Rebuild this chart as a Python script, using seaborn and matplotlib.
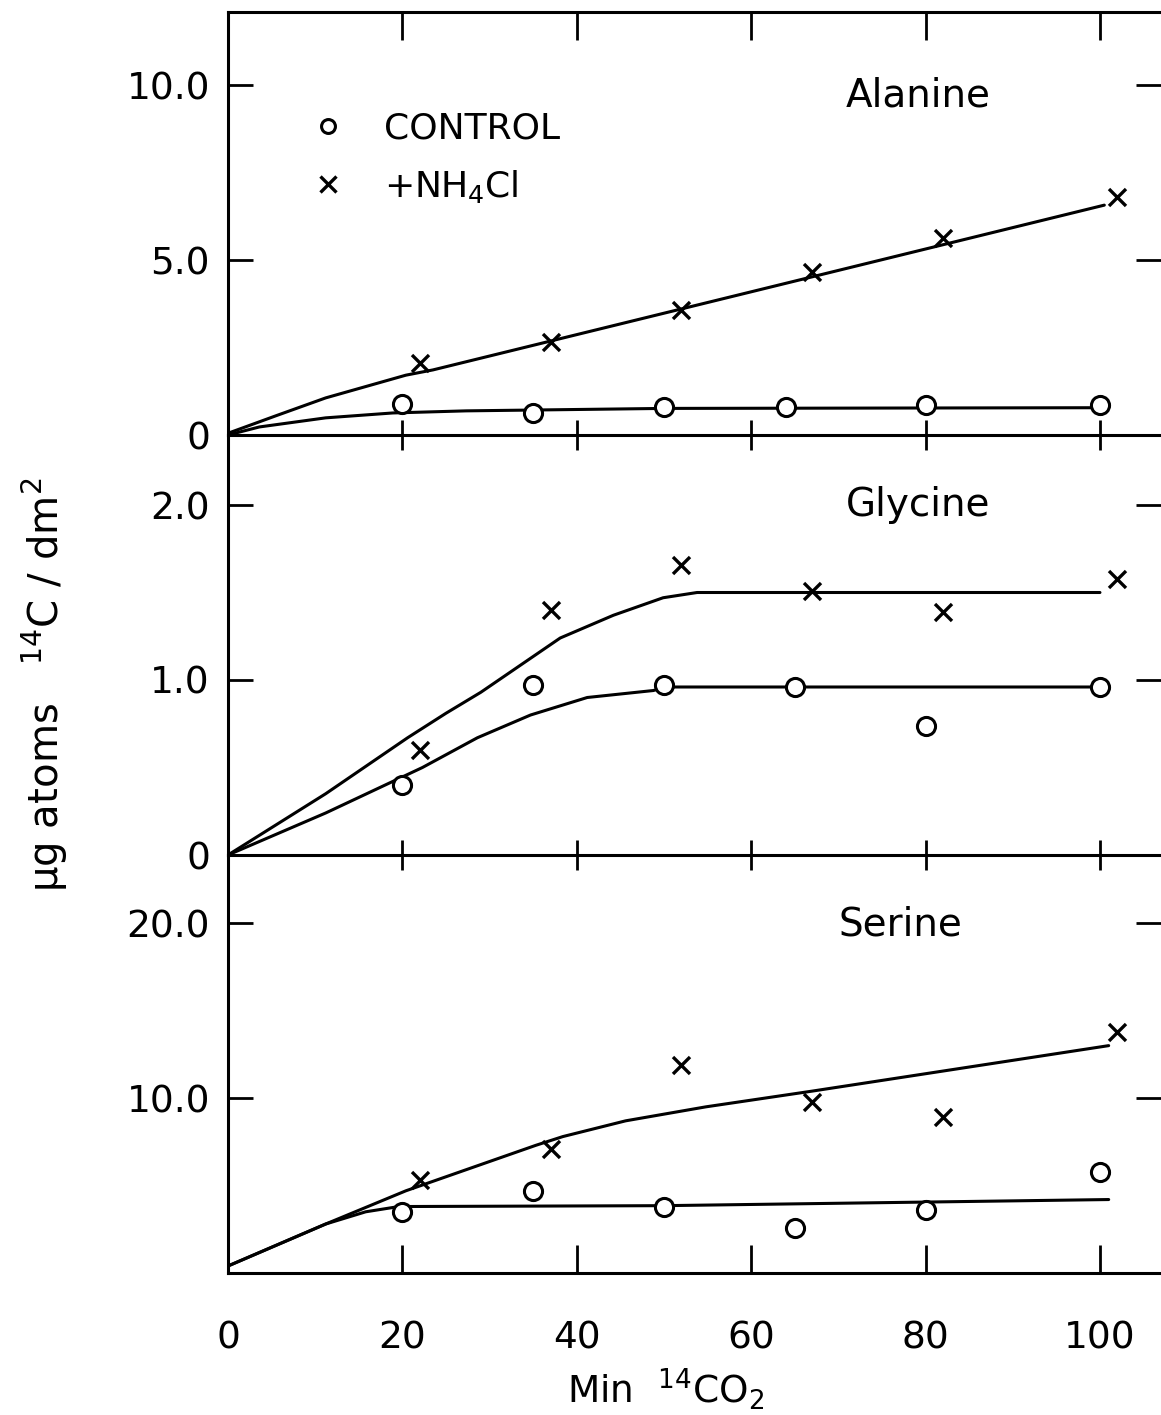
import numpy as np
import pandas as pd
import matplotlib
matplotlib.use("Agg")
import matplotlib.pyplot as plt
import seaborn as sns
from matplotlib.lines import Line2D

# ---------------- data ----------------
ala_ctrl_x = [20, 35, 50, 64, 80, 100]
ala_ctrl_y = [0.90, 0.63, 0.80, 0.80, 0.86, 0.86]
ala_nh4_x = [22, 37, 52, 67, 82, 102]
ala_nh4_y = [2.06, 2.66, 3.57, 4.66, 5.63, 6.80]
ala_fit_ctrl_x = [0, 3.6, 11.2, 18.9, 27.3, 50, 100]
ala_fit_ctrl_y = [0, 0.23, 0.49, 0.63, 0.69, 0.76, 0.78]
ala_fit_nh4_x = [0, 5.5, 11.2, 20.4, 23.5, 100.5]
ala_fit_nh4_y = [0.05, 0.55, 1.06, 1.71, 1.86, 6.57]

gly_ctrl_x = [20, 35, 50, 65, 80, 100]
gly_ctrl_y = [0.40, 0.97, 0.97, 0.96, 0.74, 0.96]
gly_nh4_x = [22, 37, 52, 67, 82, 102]
gly_nh4_y = [0.60, 1.40, 1.66, 1.51, 1.39, 1.58]
gly_fit_ctrl_x = [0, 11.2, 22.3, 28.6, 34.7, 41.2, 48.8, 50, 100]
gly_fit_ctrl_y = [0, 0.24, 0.50, 0.67, 0.80, 0.90, 0.94, 0.96, 0.96]
gly_fit_nh4_x = [0, 11.2, 20.6, 25, 29, 38.1, 44.2, 49.9, 53.8, 65.6, 100]
gly_fit_nh4_y = [0, 0.35, 0.67, 0.81, 0.93, 1.24, 1.37, 1.47, 1.50, 1.50, 1.50]

ser_ctrl_x = [20, 35, 50, 65, 80, 100]
ser_ctrl_y = [3.5, 4.7, 3.8, 2.6, 3.6, 5.8]
ser_nh4_x = [22, 37, 52, 67, 82, 102]
ser_nh4_y = [5.3, 7.1, 11.9, 9.8, 8.9, 13.8]
ser_fit_ctrl_x = [0, 11.2, 15.8, 19.6, 50, 101]
ser_fit_ctrl_y = [0.4, 2.8, 3.5, 3.8, 3.85, 4.2]
ser_fit_nh4_x = [0, 11.2, 20.4, 35.3, 38.4, 45.6, 54.8, 67, 101]
ser_fit_nh4_y = [0.4, 2.8, 4.7, 7.3, 7.8, 8.7, 9.5, 10.4, 13.0]

panel_names = ["Alanine", "Glycine", "Serine"]
x_ticks = [0, 20, 40, 60, 80, 100]
x_tick_labels = ["0", "20", "40", "60", "80", "100"]
y_ticks = [[0, 5, 10], [0, 1, 2], [10, 20]]
y_tick_labels = [["0", "5.0", "10.0"], ["0", "1.0", "2.0"], ["10.0", "20.0"]]
legend_labels = ["CONTROL", "+NH$_4$Cl"]

# ---------------- style ----------------
sns.set_theme(style="white")
plt.rcParams["font.family"] = ["DejaVu Sans"]
plt.rcParams["mathtext.fontset"] = "dejavusans"

W, H = 1161, 1415
fig = plt.figure(figsize=(W / 100, H / 100), dpi=100)
fig.patch.set_facecolor("white")

left = 228 / W
width = 1 - left
panels_px = [(12, 435), (435, 855), (855, 1273)]
ylims = [(0, 12.09), (0, 2.4), (0, 23.9)]
XMAX = 107.0

data = [
    (ala_ctrl_x, ala_ctrl_y, ala_nh4_x, ala_nh4_y,
     ala_fit_ctrl_x, ala_fit_ctrl_y, ala_fit_nh4_x, ala_fit_nh4_y),
    (gly_ctrl_x, gly_ctrl_y, gly_nh4_x, gly_nh4_y,
     gly_fit_ctrl_x, gly_fit_ctrl_y, gly_fit_nh4_x, gly_fit_nh4_y),
    (ser_ctrl_x, ser_ctrl_y, ser_nh4_x, ser_nh4_y,
     ser_fit_ctrl_x, ser_fit_ctrl_y, ser_fit_nh4_x, ser_fit_nh4_y),
]
name_pos = [(79.2, 9.7), (79.2, 2.0), (77.1, 19.9)]

LW = 2.2
axes = []
for i, (top_px, bot_px) in enumerate(panels_px):
    ax = fig.add_axes([left, 1 - bot_px / H, width, (bot_px - top_px) / H])
    ax.patch.set_visible(False)
    axes.append(ax)
    cx, cy, nx, ny, fcx, fcy, fnx, fny = data[i]

    sns.lineplot(x=fnx, y=fny, ax=ax, color="black", lw=LW, sort=False,
                 estimator=None)
    sns.lineplot(x=fcx, y=fcy, ax=ax, color="black", lw=LW, sort=False,
                 estimator=None)
    sns.scatterplot(x=cx, y=cy, ax=ax, marker="o", s=170, facecolor="white",
                    edgecolor="black", linewidth=2.2, zorder=4)
    sns.scatterplot(x=nx, y=ny, ax=ax, marker="x", s=150, color="black",
                    linewidth=2.4, zorder=4)

    ax.set_xlim(0, XMAX)
    ax.set_ylim(*ylims[i])
    ax.set_xlabel("")
    ax.set_ylabel("")

    for s in ["left", "bottom", "top"]:
        ax.spines[s].set_visible(True)
        ax.spines[s].set_color("black")
        ax.spines[s].set_linewidth(2.2)
    ax.spines["right"].set_visible(False)
    if i > 0:
        ax.spines["top"].set_visible(False)

    ax.set_yticks(y_ticks[i])
    ax.set_yticklabels(y_tick_labels[i])
    ax.tick_params(axis="y", which="major", direction="in", length=18,
                   width=2.0, left=True, right=True, labelsize=27, pad=13,
                   color="black", labelcolor="black")

    ax.set_xticks(x_ticks)
    if i < 2:
        ax.set_xticklabels([])
        ax.tick_params(axis="x", direction="inout", length=22, width=2.0,
                       bottom=True, top=False, color="black")
    else:
        ax.set_xticklabels(x_tick_labels)
        ax.tick_params(axis="x", direction="in", length=20, width=2.0,
                       bottom=True, top=False, labelsize=27, pad=34,
                       color="black", labelcolor="black")

    if i == 0:
        sec = ax.secondary_xaxis("top")
        sec.set_xticks(x_ticks[1:])
        sec.set_xticklabels([])
        sec.tick_params(direction="in", length=20, width=2.0, color="black")
        sec.spines["top"].set_visible(False)

    ax.text(name_pos[i][0], name_pos[i][1], panel_names[i], ha="center",
            va="center", fontsize=28, color="black")

# legend in the top panel
handles = [
    Line2D([], [], marker="o", ls="none", markersize=10, markerfacecolor="white",
           markeredgecolor="black", markeredgewidth=2.2),
    Line2D([], [], marker="x", ls="none", markersize=11, color="black",
           markeredgewidth=2.4),
]
axes[0].legend(handles, legend_labels, loc="upper left",
               bbox_to_anchor=(0.088, 0.765), frameon=False, fontsize=26,
               handlelength=1.0, handletextpad=1.05, labelspacing=0.62,
               borderpad=0, borderaxespad=0, labelcolor="black")

fig.text(0.039, 0.516, "µg atoms   $^{14}$C / dm$^{2}$", rotation=90,
         ha="center", va="center", fontsize=29, color="black")
fig.text(0.573, 1 - 1390 / H, "Min  $^{14}$CO$_2$", ha="center", va="center",
         fontsize=27, color="black")

fig.savefig("out.png", dpi=100, facecolor="white")
